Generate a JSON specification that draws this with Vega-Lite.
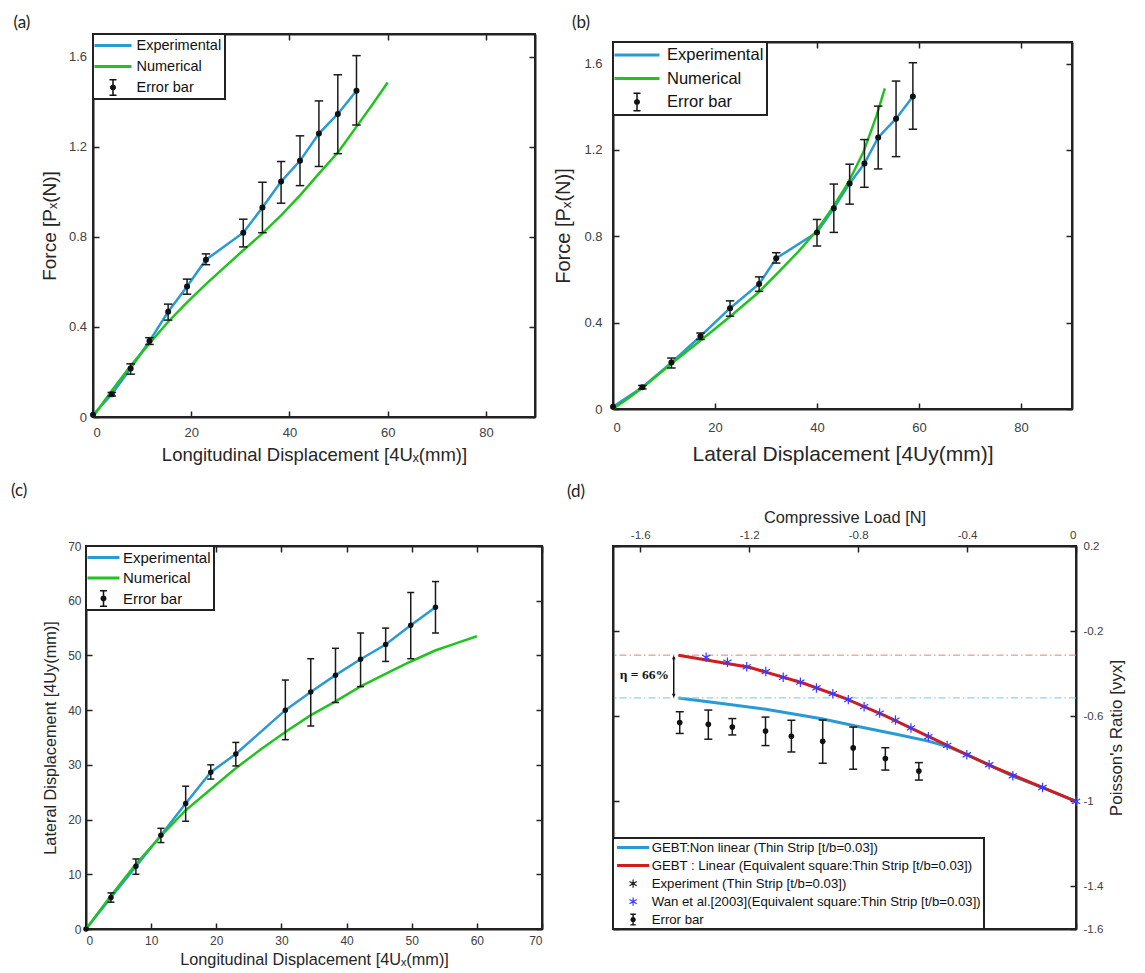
{
  "$schema": "https://vega.github.io/schema/vega-lite/v6.json",
  "background": "white",
  "padding": {"left": 10, "top": 12, "right": 5, "bottom": 5},
  "datasets": {
    "exp": [
      {"ux": 0, "uy": 0, "P": 0.01, "Plo": 0.005, "Phi": 0.015, "uylo": 0, "uyhi": 0},
      {"ux": 3.83, "uy": 5.75, "P": 0.101, "Plo": 0.093, "Phi": 0.109, "uylo": 4.9, "uyhi": 6.6},
      {"ux": 7.66, "uy": 11.45, "P": 0.215, "Plo": 0.19, "Phi": 0.236, "uylo": 10.0, "uyhi": 12.8},
      {"ux": 11.5, "uy": 17.15, "P": 0.337, "Plo": 0.322, "Phi": 0.352, "uylo": 15.8, "uyhi": 18.4},
      {"ux": 15.3, "uy": 22.95, "P": 0.467, "Plo": 0.43, "Phi": 0.501, "uylo": 19.7, "uyhi": 26.1},
      {"ux": 19.15, "uy": 28.65, "P": 0.579, "Plo": 0.545, "Phi": 0.612, "uylo": 27.4, "uyhi": 30.0},
      {"ux": 23.0, "uy": 32.0, "P": 0.698, "Plo": 0.676, "Phi": 0.724, "uylo": 29.8, "uyhi": 34.1},
      {"ux": 30.6, "uy": 40.0, "P": 0.818, "Plo": 0.755, "Phi": 0.878, "uylo": 34.6, "uyhi": 45.5},
      {"ux": 34.5, "uy": 43.3, "P": 0.93, "Plo": 0.818, "Phi": 1.042, "uylo": 37.1, "uyhi": 49.4},
      {"ux": 38.3, "uy": 46.4, "P": 1.045, "Plo": 0.949, "Phi": 1.134, "uylo": 41.4, "uyhi": 51.3},
      {"ux": 42.15, "uy": 49.3, "P": 1.137, "Plo": 1.027, "Phi": 1.248, "uylo": 44.3, "uyhi": 54.1},
      {"ux": 46.0, "uy": 52.0, "P": 1.258, "Plo": 1.112, "Phi": 1.403, "uylo": 48.9, "uyhi": 55.0},
      {"ux": 49.85, "uy": 55.5, "P": 1.345, "Plo": 1.169, "Phi": 1.519, "uylo": 49.4, "uyhi": 61.5},
      {"ux": 53.65, "uy": 58.8, "P": 1.448, "Plo": 1.296, "Phi": 1.604, "uylo": 54.1, "uyhi": 63.5}
    ],
    "numA": [
      {"ux": 0, "P": 0}, {"ux": 2, "P": 0.062}, {"ux": 3.85, "P": 0.118}, {"ux": 7.7, "P": 0.228},
      {"ux": 11.5, "P": 0.327}, {"ux": 15.4, "P": 0.425}, {"ux": 19.2, "P": 0.51}, {"ux": 23, "P": 0.59},
      {"ux": 26.8, "P": 0.665}, {"ux": 30.6, "P": 0.74}, {"ux": 34.5, "P": 0.815}, {"ux": 38.3, "P": 0.895},
      {"ux": 42.2, "P": 0.985}, {"ux": 46, "P": 1.08}, {"ux": 49.9, "P": 1.175}, {"ux": 53.7, "P": 1.29},
      {"ux": 57, "P": 1.39}, {"ux": 60, "P": 1.485}
    ],
    "numB": [
      {"uy": 0, "P": 0}, {"uy": 3, "P": 0.05}, {"uy": 5.8, "P": 0.098}, {"uy": 11.3, "P": 0.207},
      {"uy": 17.1, "P": 0.316}, {"uy": 22.8, "P": 0.425}, {"uy": 28.4, "P": 0.537}, {"uy": 32.7, "P": 0.64},
      {"uy": 36.3, "P": 0.728}, {"uy": 39.8, "P": 0.822}, {"uy": 43, "P": 0.93}, {"uy": 46.1, "P": 1.047},
      {"uy": 49.1, "P": 1.19}, {"uy": 51.7, "P": 1.36}, {"uy": 53.3, "P": 1.485}
    ],
    "numC": [
      {"ux": 0, "uy": 0}, {"ux": 3.77, "uy": 6.0}, {"ux": 7.6, "uy": 11.8}, {"ux": 11.5, "uy": 17.0},
      {"ux": 15.2, "uy": 21.6}, {"ux": 19.1, "uy": 25.5}, {"ux": 22.9, "uy": 29.3}, {"ux": 26.8, "uy": 32.8},
      {"ux": 30.6, "uy": 36.0}, {"ux": 34.4, "uy": 39.0}, {"ux": 38.3, "uy": 41.6}, {"ux": 42.1, "uy": 44.3},
      {"ux": 45.9, "uy": 46.6}, {"ux": 49.7, "uy": 48.8}, {"ux": 53.6, "uy": 50.9}, {"ux": 57, "uy": 52.3},
      {"ux": 60, "uy": 53.5}
    ],
    "linD": [
      {"load": -1.46, "nu": -0.313}, {"load": -1.2, "nu": -0.37}, {"load": -1.0, "nu": -0.445},
      {"load": -0.85, "nu": -0.515}, {"load": -0.7, "nu": -0.598}, {"load": -0.55, "nu": -0.69},
      {"load": -0.4, "nu": -0.781}, {"load": -0.3, "nu": -0.84}, {"load": -0.15, "nu": -0.92}, {"load": 0, "nu": -1.0}
    ],
    "nonD": [
      {"load": -1.46, "nu": -0.514}, {"load": -1.3, "nu": -0.54}, {"load": -1.139, "nu": -0.567},
      {"load": -0.934, "nu": -0.612}, {"load": -0.8, "nu": -0.648}, {"load": -0.66, "nu": -0.685},
      {"load": -0.546, "nu": -0.716}, {"load": -0.47, "nu": -0.743}, {"load": -0.403, "nu": -0.779},
      {"load": -0.32, "nu": -0.829}, {"load": -0.232, "nu": -0.881}, {"load": -0.123, "nu": -0.936}, {"load": 0, "nu": -1.0}
    ],
    "wan": [
      {"load": -1.358, "nu": -0.323}, {"load": -1.28, "nu": -0.346}, {"load": -1.209, "nu": -0.368},
      {"load": -1.139, "nu": -0.39}, {"load": -1.075, "nu": -0.417}, {"load": -1.012, "nu": -0.44},
      {"load": -0.953, "nu": -0.467}, {"load": -0.893, "nu": -0.494}, {"load": -0.836, "nu": -0.522},
      {"load": -0.778, "nu": -0.555}, {"load": -0.721, "nu": -0.585}, {"load": -0.663, "nu": -0.618},
      {"load": -0.606, "nu": -0.655}, {"load": -0.542, "nu": -0.696}, {"load": -0.473, "nu": -0.737},
      {"load": -0.401, "nu": -0.781}, {"load": -0.319, "nu": -0.828}, {"load": -0.232, "nu": -0.88},
      {"load": -0.123, "nu": -0.935}, {"load": 0, "nu": -1.0}
    ],
    "expD": [
      {"load": -1.455, "nu": -0.63, "lo": -0.681, "hi": -0.579},
      {"load": -1.35, "nu": -0.638, "lo": -0.708, "hi": -0.571},
      {"load": -1.262, "nu": -0.651, "lo": -0.688, "hi": -0.611},
      {"load": -1.14, "nu": -0.67, "lo": -0.738, "hi": -0.604},
      {"load": -1.045, "nu": -0.694, "lo": -0.768, "hi": -0.619},
      {"load": -0.93, "nu": -0.718, "lo": -0.821, "hi": -0.618},
      {"load": -0.818, "nu": -0.749, "lo": -0.849, "hi": -0.651},
      {"load": -0.7, "nu": -0.799, "lo": -0.853, "hi": -0.748},
      {"load": -0.577, "nu": -0.858, "lo": -0.9, "hi": -0.818}
    ],
    "legABC": [{"s": "Experimental"}, {"s": "Numerical"}, {"s": "Error bar"}],
    "legD": [
      {"s": "GEBT:Non linear (Thin Strip [t/b=0.03])"},
      {"s": "GEBT : Linear (Equivalent square:Thin Strip [t/b=0.03])"},
      {"s": "Experiment (Thin Strip [t/b=0.03])"},
      {"s": "Wan et al.[2003](Equivalent square:Thin Strip [t/b=0.03])"},
      {"s": "Error bar"}
    ]
  },
  "columns": 2,
  "spacing": {"row": 129, "column": 71},
  "bounds": "flush",
  "align": "each",
  "center": true,
  "resolve": {
    "scale": {"x": "independent", "y": "independent", "color": "independent", "shape": "independent"},
    "axis": {"x": "independent", "y": "independent"},
    "legend": {"color": "independent", "shape": "independent"}
  },
  "concat": [
    {
      "width": 442, "height": 383,
      "title": {"text": "(a)", "dx": -79.5, "offset": 1},
      "layer": [
        {
          "data": {"name": "exp"},
          "mark": {"type": "line", "strokeWidth": 2.5, "color": "#2a9ad5"},
          "encoding": {
            "x": {"field": "ux", "type": "quantitative", "scale": {"domain": [0, 90], "nice": false, "zero": false},
              "axis": {"orient": "bottom", "grid": true, "values": [0, 20, 40, 60, 80], "labelExpr": "'' + datum.value", "title": "Longitudinal Displacement [4Uₓ(mm)]", "labelFontSize": 13, "labelPadding": 9, "titleFontSize": 18.5, "titlePadding": 6}},
            "y": {"field": "P", "type": "quantitative", "scale": {"domain": [0, 1.7], "nice": false, "zero": false},
              "axis": {"orient": "left", "grid": true, "values": [0, 0.4, 0.8, 1.2, 1.6], "labelExpr": "'' + datum.value", "title": "Force [Pₓ(N)]", "labelFontSize": 13, "labelPadding": 6.5, "titleFontSize": 19, "titlePadding": 9}}
          }
        },
        {
          "data": {"name": "numA"},
          "mark": {"type": "line", "strokeWidth": 2.5, "color": "#21c321"},
          "encoding": {
            "x": {"field": "ux", "type": "quantitative", "axis": null},
            "y": {"field": "P", "type": "quantitative", "axis": null}
          }
        },
        {
          "data": {"name": "exp"},
          "transform": [{"filter": "datum.ux > 0"}],
          "mark": {"type": "rule", "color": "#1a1a1a", "strokeWidth": 1.5},
          "encoding": {
            "x": {"field": "ux", "type": "quantitative", "axis": null},
            "y": {"field": "Plo", "type": "quantitative", "axis": null},
            "y2": {"field": "Phi"}
          }
        },
        {
          "data": {"name": "exp"},
          "transform": [{"filter": "datum.ux > 0"}],
          "mark": {"type": "tick", "orient": "horizontal", "color": "#1a1a1a", "thickness": 1.5, "size": 8.5, "opacity": 1},
          "encoding": {
            "x": {"field": "ux", "type": "quantitative", "axis": null},
            "y": {"field": "Plo", "type": "quantitative", "axis": null}
          }
        },
        {
          "data": {"name": "exp"},
          "transform": [{"filter": "datum.ux > 0"}],
          "mark": {"type": "tick", "orient": "horizontal", "color": "#1a1a1a", "thickness": 1.5, "size": 8.5, "opacity": 1},
          "encoding": {
            "x": {"field": "ux", "type": "quantitative", "axis": null},
            "y": {"field": "Phi", "type": "quantitative", "axis": null}
          }
        },
        {
          "data": {"name": "exp"},
          "mark": {"type": "point", "filled": true, "color": "#111111", "size": 36, "opacity": 1},
          "encoding": {
            "x": {"field": "ux", "type": "quantitative", "axis": null},
            "y": {"field": "P", "type": "quantitative", "axis": null}
          }
        },
        {
          "data": {"name": "exp"},
          "mark": {"type": "point", "opacity": 0},
          "encoding": {
            "x": {"field": "ux", "type": "quantitative", "axis": {"orient": "top", "grid": true, "values": [0, 20, 40, 60, 80], "labels": false, "title": null}},
            "y": {"field": "P", "type": "quantitative", "axis": {"orient": "right", "grid": true, "values": [0, 0.4, 0.8, 1.2, 1.6], "labels": false, "title": null}}
          }
        },
        {
          "data": {"name": "legABC"},
          "mark": {"type": "point", "filled": true, "opacity": 0},
          "encoding": {
            "color": {"field": "s", "type": "nominal",
              "scale": {"domain": ["Experimental", "Numerical", "Error bar"], "range": ["#2a9ad5", "#21c321", "#111111"]},
              "legend": {"title": null, "orient": "top-left", "offset": 0, "padding": 3, "rowPadding": 6, "labelFontSize": 14.5, "labelFont": "Liberation Sans", "labelColor": "#111", "symbolSize": 289, "symbolStrokeWidth": 0, "symbolOpacity": 1, "symbolOffset": 8.5, "labelOffset": 15, "fillColor": "white", "strokeColor": "#222", "labelLimit": 300}},
            "shape": {"field": "s", "type": "nominal",
              "scale": {"domain": ["Experimental", "Numerical", "Error bar"], "range": [
                "M-2.18,-0.18L2.18,-0.18L2.18,0.18L-2.18,0.18Z",
                "M-2.18,-0.18L2.18,-0.18L2.18,0.18L-2.18,0.18Z",
                "M-0.09,-1L0.09,-1L0.09,1L-0.09,1Z M-0.41,-1L0.41,-1L0.41,-0.82L-0.41,-0.82Z M-0.41,0.82L0.41,0.82L0.41,1L-0.41,1Z M-0.35,0A0.35,0.35,0,1,1,0.35,0A0.35,0.35,0,1,1,-0.35,0Z"]},
              "legend": {"title": null, "orient": "top-left", "offset": 0, "padding": 3, "rowPadding": 6, "labelFontSize": 14.5, "labelFont": "Liberation Sans", "labelColor": "#111", "symbolSize": 289, "symbolStrokeWidth": 0, "symbolOpacity": 1, "symbolOffset": 8.5, "labelOffset": 15, "fillColor": "white", "strokeColor": "#222", "labelLimit": 300}}
          }
        }
      ],
      "resolve": {"axis": {"x": "independent", "y": "independent"}}
    },
    {
      "width": 459, "height": 367,
      "title": {"text": "(b)", "dx": -41, "offset": 9.5},
      "layer": [
        {
          "data": {"name": "exp"},
          "mark": {"type": "line", "strokeWidth": 2.5, "color": "#2a9ad5"},
          "encoding": {
            "x": {"field": "uy", "type": "quantitative", "scale": {"domain": [0, 90], "nice": false, "zero": false},
              "axis": {"orient": "bottom", "grid": true, "values": [0, 20, 40, 60, 80], "labelExpr": "'' + datum.value", "title": "Lateral Displacement [4Uy(mm)]", "labelFontSize": 13, "labelPadding": 12.5, "titleFontSize": 21, "titlePadding": 9}},
            "y": {"field": "P", "type": "quantitative", "scale": {"domain": [0, 1.7], "nice": false, "zero": false},
              "axis": {"orient": "left", "grid": true, "values": [0, 0.4, 0.8, 1.2, 1.6], "labelExpr": "'' + datum.value", "title": "Force [Pₓ(N)]", "labelFontSize": 13, "labelPadding": 11, "titleFontSize": 20, "titlePadding": 10.5}}
          }
        },
        {
          "data": {"name": "numB"},
          "mark": {"type": "line", "strokeWidth": 2.5, "color": "#21c321"},
          "encoding": {
            "x": {"field": "uy", "type": "quantitative", "axis": null},
            "y": {"field": "P", "type": "quantitative", "axis": null}
          }
        },
        {
          "data": {"name": "exp"},
          "transform": [{"filter": "datum.ux > 0"}],
          "mark": {"type": "rule", "color": "#1a1a1a", "strokeWidth": 1.5},
          "encoding": {
            "x": {"field": "uy", "type": "quantitative", "axis": null},
            "y": {"field": "Plo", "type": "quantitative", "axis": null},
            "y2": {"field": "Phi"}
          }
        },
        {
          "data": {"name": "exp"},
          "transform": [{"filter": "datum.ux > 0"}],
          "mark": {"type": "tick", "orient": "horizontal", "color": "#1a1a1a", "thickness": 1.5, "size": 8.5, "opacity": 1},
          "encoding": {
            "x": {"field": "uy", "type": "quantitative", "axis": null},
            "y": {"field": "Plo", "type": "quantitative", "axis": null}
          }
        },
        {
          "data": {"name": "exp"},
          "transform": [{"filter": "datum.ux > 0"}],
          "mark": {"type": "tick", "orient": "horizontal", "color": "#1a1a1a", "thickness": 1.5, "size": 8.5, "opacity": 1},
          "encoding": {
            "x": {"field": "uy", "type": "quantitative", "axis": null},
            "y": {"field": "Phi", "type": "quantitative", "axis": null}
          }
        },
        {
          "data": {"name": "exp"},
          "mark": {"type": "point", "filled": true, "color": "#111111", "size": 36, "opacity": 1},
          "encoding": {
            "x": {"field": "uy", "type": "quantitative", "axis": null},
            "y": {"field": "P", "type": "quantitative", "axis": null}
          }
        },
        {
          "data": {"name": "exp"},
          "mark": {"type": "point", "opacity": 0},
          "encoding": {
            "x": {"field": "uy", "type": "quantitative", "axis": {"orient": "top", "grid": true, "values": [0, 20, 40, 60, 80], "labels": false, "title": null}},
            "y": {"field": "P", "type": "quantitative", "axis": {"orient": "right", "grid": true, "values": [0, 0.4, 0.8, 1.2, 1.6], "labels": false, "title": null}}
          }
        },
        {
          "data": {"name": "legABC"},
          "mark": {"type": "point", "filled": true, "opacity": 0},
          "encoding": {
            "color": {"field": "s", "type": "nominal",
              "scale": {"domain": ["Experimental", "Numerical", "Error bar"], "range": ["#2a9ad5", "#21c321", "#111111"]},
              "legend": {"title": null, "orient": "top-left", "offset": 0, "padding": 3, "rowPadding": 4.5, "labelFontSize": 16.5, "labelFont": "Liberation Sans", "labelColor": "#111", "symbolSize": 400, "symbolStrokeWidth": 0, "symbolOpacity": 1, "symbolOffset": 11, "labelOffset": 20, "fillColor": "white", "strokeColor": "#222", "labelLimit": 300}},
            "shape": {"field": "s", "type": "nominal",
              "scale": {"domain": ["Experimental", "Numerical", "Error bar"], "range": [
                "M-2.25,-0.15L2.25,-0.15L2.25,0.15L-2.25,0.15Z",
                "M-2.25,-0.15L2.25,-0.15L2.25,0.15L-2.25,0.15Z",
                "M-0.075,-0.95L0.075,-0.95L0.075,0.95L-0.075,0.95Z M-0.35,-0.95L0.35,-0.95L0.35,-0.8L-0.35,-0.8Z M-0.35,0.8L0.35,0.8L0.35,0.95L-0.35,0.95Z M-0.3,0A0.3,0.3,0,1,1,0.3,0A0.3,0.3,0,1,1,-0.3,0Z"]},
              "legend": {"title": null, "orient": "top-left", "offset": 0, "padding": 3, "rowPadding": 4.5, "labelFontSize": 16.5, "labelFont": "Liberation Sans", "labelColor": "#111", "symbolSize": 400, "symbolStrokeWidth": 0, "symbolOpacity": 1, "symbolOffset": 11, "labelOffset": 20, "fillColor": "white", "strokeColor": "#222", "labelLimit": 300}}
          }
        }
      ],
      "resolve": {"axis": {"x": "independent", "y": "independent"}}
    },
    {
      "width": 456, "height": 383,
      "title": {"text": "(c)", "dx": -75, "offset": 40},
      "layer": [
        {
          "data": {"name": "exp"},
          "mark": {"type": "line", "strokeWidth": 2.5, "color": "#2a9ad5"},
          "encoding": {
            "x": {"field": "ux", "type": "quantitative", "scale": {"domain": [0, 70], "nice": false, "zero": false},
              "axis": {"orient": "bottom", "grid": true, "values": [0, 10, 20, 30, 40, 50, 60, 70], "labelExpr": "'' + datum.value", "title": "Longitudinal Displacement [4Uₓ(mm)]", "labelFontSize": 12, "labelPadding": 6.8, "titleFontSize": 16.3, "titlePadding": 5}},
            "y": {"field": "uy", "type": "quantitative", "scale": {"domain": [0, 70], "nice": false, "zero": false},
              "axis": {"orient": "left", "grid": true, "values": [0, 10, 20, 30, 40, 50, 60, 70], "labelExpr": "'' + datum.value", "title": "Lateral Displacement [4Uy(mm)]", "labelFontSize": 12, "labelPadding": 5, "titleFontSize": 16.3, "titlePadding": 9}}
          }
        },
        {
          "data": {"name": "numC"},
          "mark": {"type": "line", "strokeWidth": 2.5, "color": "#21c321"},
          "encoding": {
            "x": {"field": "ux", "type": "quantitative", "axis": null},
            "y": {"field": "uy", "type": "quantitative", "axis": null}
          }
        },
        {
          "data": {"name": "exp"},
          "transform": [{"filter": "datum.ux > 0"}],
          "mark": {"type": "rule", "color": "#1a1a1a", "strokeWidth": 1.5},
          "encoding": {
            "x": {"field": "ux", "type": "quantitative", "axis": null},
            "y": {"field": "uylo", "type": "quantitative", "axis": null},
            "y2": {"field": "uyhi"}
          }
        },
        {
          "data": {"name": "exp"},
          "transform": [{"filter": "datum.ux > 0"}],
          "mark": {"type": "tick", "orient": "horizontal", "color": "#1a1a1a", "thickness": 1.5, "size": 7, "opacity": 1},
          "encoding": {
            "x": {"field": "ux", "type": "quantitative", "axis": null},
            "y": {"field": "uylo", "type": "quantitative", "axis": null}
          }
        },
        {
          "data": {"name": "exp"},
          "transform": [{"filter": "datum.ux > 0"}],
          "mark": {"type": "tick", "orient": "horizontal", "color": "#1a1a1a", "thickness": 1.5, "size": 7, "opacity": 1},
          "encoding": {
            "x": {"field": "ux", "type": "quantitative", "axis": null},
            "y": {"field": "uyhi", "type": "quantitative", "axis": null}
          }
        },
        {
          "data": {"name": "exp"},
          "mark": {"type": "point", "filled": true, "color": "#111111", "size": 30, "opacity": 1},
          "encoding": {
            "x": {"field": "ux", "type": "quantitative", "axis": null},
            "y": {"field": "uy", "type": "quantitative", "axis": null}
          }
        },
        {
          "data": {"name": "exp"},
          "mark": {"type": "point", "opacity": 0},
          "encoding": {
            "x": {"field": "ux", "type": "quantitative", "axis": {"orient": "top", "grid": true, "values": [0, 10, 20, 30, 40, 50, 60, 70], "labels": false, "title": null}},
            "y": {"field": "uy", "type": "quantitative", "axis": {"orient": "right", "grid": true, "values": [0, 10, 20, 30, 40, 50, 60, 70], "labels": false, "title": null}}
          }
        },
        {
          "data": {"name": "legABC"},
          "mark": {"type": "point", "filled": true, "opacity": 0},
          "encoding": {
            "color": {"field": "s", "type": "nominal",
              "scale": {"domain": ["Experimental", "Numerical", "Error bar"], "range": ["#2a9ad5", "#21c321", "#111111"]},
              "legend": {"title": null, "orient": "top-left", "offset": 0, "padding": 3, "rowPadding": 3.5, "labelFontSize": 15, "labelFont": "Liberation Sans", "labelColor": "#111", "symbolSize": 289, "symbolStrokeWidth": 0, "symbolOpacity": 1, "symbolOffset": 6, "labelOffset": 11, "fillColor": "white", "strokeColor": "#222", "labelLimit": 300}},
            "shape": {"field": "s", "type": "nominal",
              "scale": {"domain": ["Experimental", "Numerical", "Error bar"], "range": [
                "M-1.88,-0.18L1.88,-0.18L1.88,0.18L-1.88,0.18Z",
                "M-1.88,-0.18L1.88,-0.18L1.88,0.18L-1.88,0.18Z",
                "M-0.09,-1L0.09,-1L0.09,1L-0.09,1Z M-0.41,-1L0.41,-1L0.41,-0.82L-0.41,-0.82Z M-0.41,0.82L0.41,0.82L0.41,1L-0.41,1Z M-0.35,0A0.35,0.35,0,1,1,0.35,0A0.35,0.35,0,1,1,-0.35,0Z"]},
              "legend": {"title": null, "orient": "top-left", "offset": 0, "padding": 3, "rowPadding": 3.5, "labelFontSize": 15, "labelFont": "Liberation Sans", "labelColor": "#111", "symbolSize": 289, "symbolStrokeWidth": 0, "symbolOpacity": 1, "symbolOffset": 6, "labelOffset": 11, "fillColor": "white", "strokeColor": "#222", "labelLimit": 300}}
          }
        }
      ],
      "resolve": {"axis": {"x": "independent", "y": "independent"}}
    },
    {
      "width": 463, "height": 383,
      "title": {"text": "(d)", "dx": -46, "offset": 8.5},
      "layer": [
        {
          "data": {"name": "nonD"},
          "mark": {"type": "line", "strokeWidth": 3, "color": "#2a9ad5"},
          "encoding": {
            "x": {"field": "load", "type": "quantitative", "scale": {"domain": [-1.7, 0], "nice": false, "zero": false},
              "axis": {"orient": "top", "grid": true, "values": [-1.6, -1.2, -0.8, -0.4, 0], "labelExpr": "'' + datum.value", "title": "Compressive Load [N]", "labelFontSize": 11.5, "labelPadding": 5.5, "titleFontSize": 16.4, "titlePadding": 4}},
            "y": {"field": "nu", "type": "quantitative", "scale": {"domain": [-1.6, 0.2], "nice": false, "zero": false},
              "axis": {"orient": "right", "grid": true, "values": [0.2, -0.2, -0.6, -1, -1.4, -1.6], "labelExpr": "'' + datum.value", "title": "Poisson's Ratio [νyx]", "titleAngle": 270, "titleBaseline": "top", "labelFontSize": 11.5, "labelPadding": 7, "titleFontSize": 17, "titlePadding": 5.5}}
          }
        },
        {
          "data": {"values": [{"nu": -0.313}]},
          "mark": {"type": "rule", "color": "#f27a7a", "strokeWidth": 1, "strokeDash": [7, 3, 1.5, 3]},
          "encoding": {"y": {"field": "nu", "type": "quantitative", "axis": null}}
        },
        {
          "data": {"values": [{"nu": -0.514}]},
          "mark": {"type": "rule", "color": "#6ccbe8", "strokeWidth": 1, "strokeDash": [7, 3, 1.5, 3]},
          "encoding": {"y": {"field": "nu", "type": "quantitative", "axis": null}}
        },
        {
          "data": {"name": "linD"},
          "mark": {"type": "line", "strokeWidth": 3, "color": "#d01c1c"},
          "encoding": {
            "x": {"field": "load", "type": "quantitative", "axis": null},
            "y": {"field": "nu", "type": "quantitative", "axis": null}
          }
        },
        {
          "data": {"name": "wan"},
          "mark": {"type": "point", "filled": false, "shape": "M0,-1L0,1M-0.87,-0.5L0.87,0.5M-0.87,0.5L0.87,-0.5", "stroke": "#3a3aff", "strokeWidth": 1.2, "size": 90, "opacity": 1},
          "encoding": {
            "x": {"field": "load", "type": "quantitative", "axis": null},
            "y": {"field": "nu", "type": "quantitative", "axis": null}
          }
        },
        {
          "data": {"name": "expD"},
          "mark": {"type": "rule", "color": "#1a1a1a", "strokeWidth": 1.5},
          "encoding": {
            "x": {"field": "load", "type": "quantitative", "axis": null},
            "y": {"field": "lo", "type": "quantitative", "axis": null},
            "y2": {"field": "hi"}
          }
        },
        {
          "data": {"name": "expD"},
          "mark": {"type": "tick", "orient": "horizontal", "color": "#1a1a1a", "thickness": 1.5, "size": 8, "opacity": 1},
          "encoding": {
            "x": {"field": "load", "type": "quantitative", "axis": null},
            "y": {"field": "lo", "type": "quantitative", "axis": null}
          }
        },
        {
          "data": {"name": "expD"},
          "mark": {"type": "tick", "orient": "horizontal", "color": "#1a1a1a", "thickness": 1.5, "size": 8, "opacity": 1},
          "encoding": {
            "x": {"field": "load", "type": "quantitative", "axis": null},
            "y": {"field": "hi", "type": "quantitative", "axis": null}
          }
        },
        {
          "data": {"name": "expD"},
          "mark": {"type": "point", "filled": true, "color": "#111111", "size": 32, "opacity": 1},
          "encoding": {
            "x": {"field": "load", "type": "quantitative", "axis": null},
            "y": {"field": "nu", "type": "quantitative", "axis": null}
          }
        },
        {
          "data": {"values": [{"load": -1.477, "top": -0.322, "bottom": -0.505}]},
          "mark": {"type": "rule", "color": "#111111", "strokeWidth": 1.5},
          "encoding": {
            "x": {"field": "load", "type": "quantitative", "axis": null},
            "y": {"field": "top", "type": "quantitative", "axis": null},
            "y2": {"field": "bottom"}
          }
        },
        {
          "data": {"values": [{"load": -1.477, "nu": -0.313}]},
          "mark": {"type": "point", "filled": true, "shape": "M0,0L-0.5,1.2L0.5,1.2Z", "color": "#111111", "size": 49, "opacity": 1},
          "encoding": {
            "x": {"field": "load", "type": "quantitative", "axis": null},
            "y": {"field": "nu", "type": "quantitative", "axis": null}
          }
        },
        {
          "data": {"values": [{"load": -1.477, "nu": -0.514}]},
          "mark": {"type": "point", "filled": true, "shape": "M0,0L-0.5,-1.2L0.5,-1.2Z", "color": "#111111", "size": 49, "opacity": 1},
          "encoding": {
            "x": {"field": "load", "type": "quantitative", "axis": null},
            "y": {"field": "nu", "type": "quantitative", "axis": null}
          }
        },
        {
          "data": {"values": [{"load": -1.585, "nu": -0.405, "label": "η = 66%"}]},
          "mark": {"type": "text", "font": "Liberation Serif", "fontWeight": "bold", "fontSize": 13.5, "color": "#111111", "align": "center", "baseline": "middle"},
          "encoding": {
            "x": {"field": "load", "type": "quantitative", "axis": null},
            "y": {"field": "nu", "type": "quantitative", "axis": null},
            "text": {"field": "label"}
          }
        },
        {
          "data": {"name": "expD"},
          "mark": {"type": "point", "opacity": 0},
          "encoding": {
            "x": {"field": "load", "type": "quantitative", "axis": {"orient": "bottom", "grid": true, "values": [-1.6, -1.2, -0.8, -0.4, 0], "labels": false, "title": null}},
            "y": {"field": "nu", "type": "quantitative", "axis": {"orient": "left", "grid": true, "values": [0.2, -0.2, -0.6, -1, -1.4, -1.6], "labels": false, "title": null}}
          }
        },
        {
          "data": {"name": "legD"},
          "mark": {"type": "point", "filled": true, "opacity": 0},
          "encoding": {
            "color": {"field": "s", "type": "nominal",
              "scale": {"domain": ["GEBT:Non linear (Thin Strip [t/b=0.03])", "GEBT : Linear (Equivalent square:Thin Strip [t/b=0.03])", "Experiment (Thin Strip [t/b=0.03])", "Wan et al.[2003](Equivalent square:Thin Strip [t/b=0.03])", "Error bar"],
                "range": ["#2a9ad5", "#d01c1c", "#222222", "#3a3aff", "#111111"]},
              "legend": {"title": null, "orient": "bottom-left", "offset": 0, "padding": 3, "rowPadding": 4, "labelFontSize": 13.2, "labelFont": "Liberation Sans", "labelColor": "#111", "symbolSize": 144, "symbolStrokeWidth": 0, "symbolOpacity": 1, "symbolOffset": 10.5, "labelOffset": 12, "fillColor": "white", "strokeColor": "#222", "labelLimit": 500}},
            "shape": {"field": "s", "type": "nominal",
              "scale": {"domain": ["GEBT:Non linear (Thin Strip [t/b=0.03])", "GEBT : Linear (Equivalent square:Thin Strip [t/b=0.03])", "Experiment (Thin Strip [t/b=0.03])", "Wan et al.[2003](Equivalent square:Thin Strip [t/b=0.03])", "Error bar"],
                "range": [
                  "M-2.67,-0.25L2.67,-0.25L2.67,0.25L-2.67,0.25Z",
                  "M-2.67,-0.25L2.67,-0.25L2.67,0.25L-2.67,0.25Z",
                  "M0.1,-0.7L0.1,0.7L-0.1,0.7L-0.1,-0.7Z M-0.556,-0.437L0.656,0.263L0.556,0.437L-0.656,-0.263Z M0.656,-0.263L-0.556,0.437L-0.656,0.263L0.556,-0.437Z M-0.3,0A0.3,0.3,0,1,1,0.3,0A0.3,0.3,0,1,1,-0.3,0Z",
                  "M0.1,-0.7L0.1,0.7L-0.1,0.7L-0.1,-0.7Z M-0.556,-0.437L0.656,0.263L0.556,0.437L-0.656,-0.263Z M0.656,-0.263L-0.556,0.437L-0.656,0.263L0.556,-0.437Z",
                  "M-0.12,-1L0.12,-1L0.12,1L-0.12,1Z M-0.45,-1L0.45,-1L0.45,-0.78L-0.45,-0.78Z M-0.45,0.78L0.45,0.78L0.45,1L-0.45,1Z M-0.45,0A0.45,0.45,0,1,1,0.45,0A0.45,0.45,0,1,1,-0.45,0Z"]},
              "legend": {"title": null, "orient": "bottom-left", "offset": 0, "padding": 3, "rowPadding": 4, "labelFontSize": 13.2, "labelFont": "Liberation Sans", "labelColor": "#111", "symbolSize": 144, "symbolStrokeWidth": 0, "symbolOpacity": 1, "symbolOffset": 10.5, "labelOffset": 12, "fillColor": "white", "strokeColor": "#222", "labelLimit": 500}}
          }
        }
      ],
      "resolve": {"axis": {"x": "independent", "y": "independent"}}
    }
  ],
  "config": {
    "view": {"stroke": "#222222", "strokeWidth": 2},
    "axis": {"domainColor": "#222222", "domainWidth": 2, "ticks": false, "tickSize": 0,
      "gridColor": "#222222", "gridWidth": 1.5, "gridDash": [6, 2000], "gridOpacity": 1,
      "labelColor": "#404040", "labelFont": "Liberation Sans", "titleFont": "Liberation Sans", "titleFontWeight": "normal", "titleColor": "#262626"},
    "legend": {"strokeWidth": 2},
    "title": {"font": "Lato", "fontSize": 17, "fontWeight": "normal", "color": "#222222", "anchor": "start", "frame": "group", "baseline": "middle"}
  }
}
